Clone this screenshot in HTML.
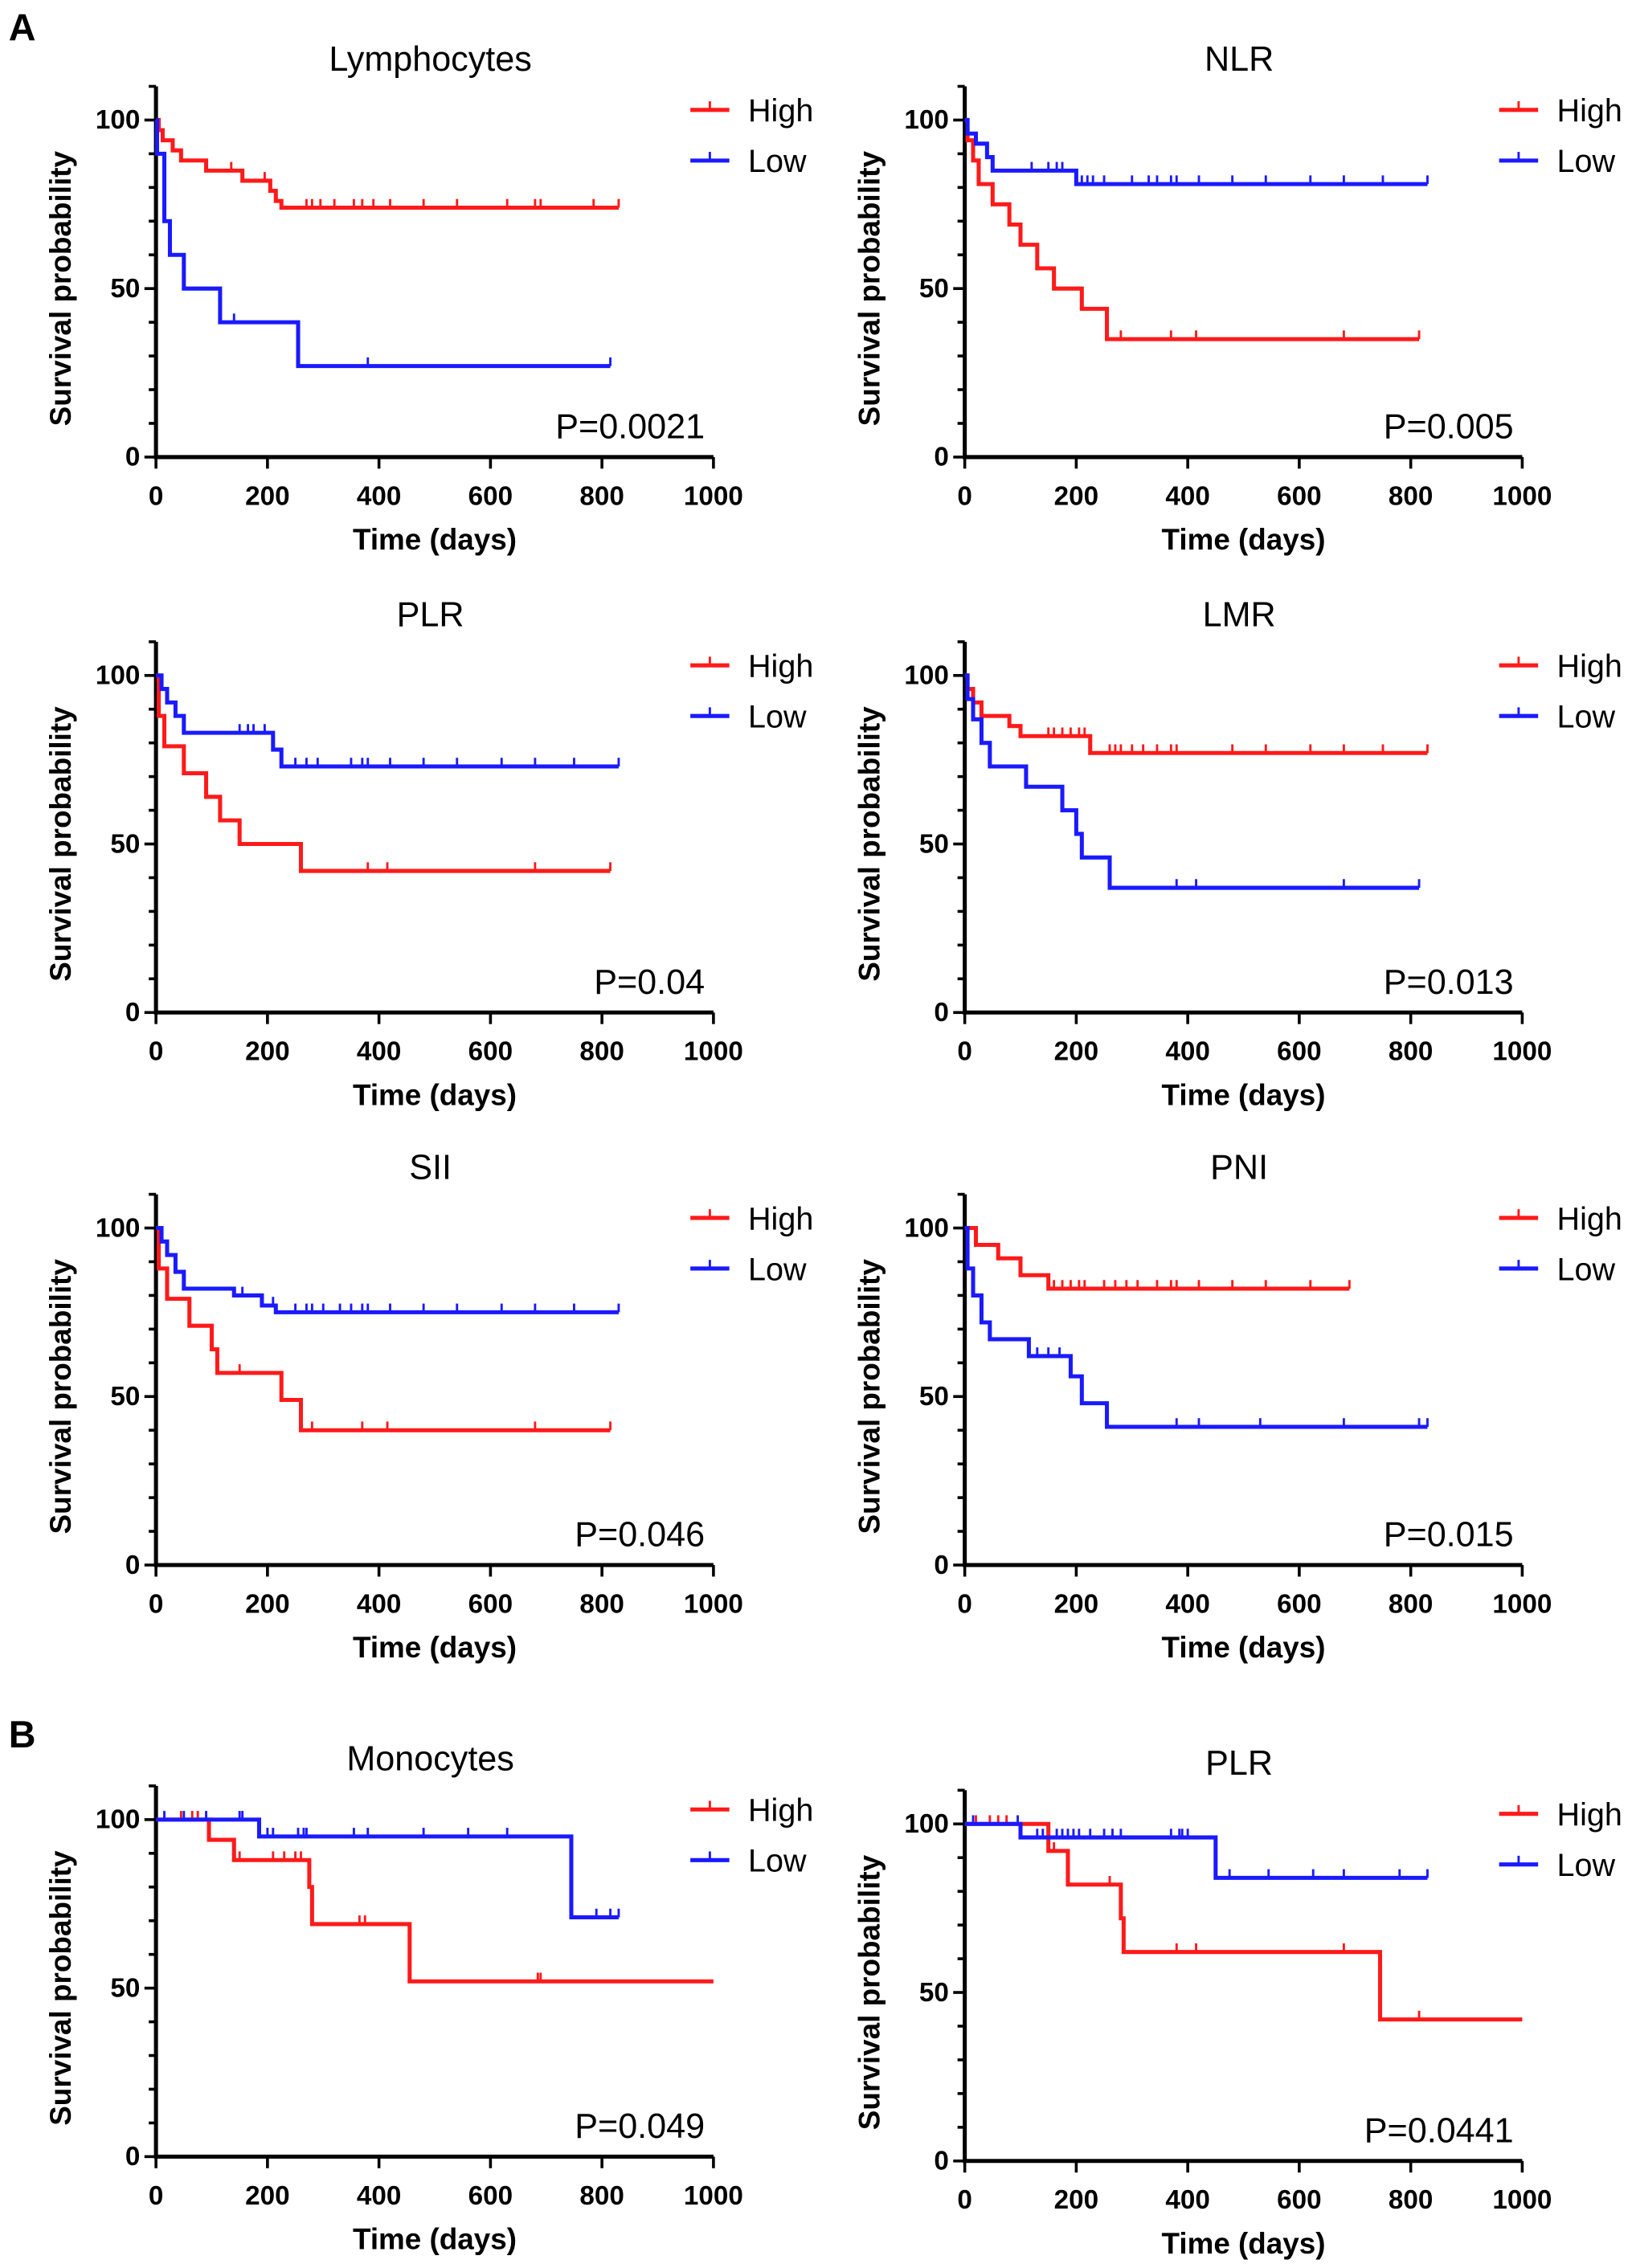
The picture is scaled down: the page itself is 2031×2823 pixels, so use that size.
<!DOCTYPE html>
<html><head><meta charset="utf-8">
<style>
html,body{margin:0;padding:0;background:#fff;}
svg{display:block;}
text{font-family:"Liberation Sans",Arial,sans-serif;}
</style></head>
<body>
<svg id="fig" width="2031" height="2823" viewBox="0 0 1130 1568" preserveAspectRatio="none" xmlns="http://www.w3.org/2000/svg"></svg>
<script>
// ---- data (time in days, survival %) ----
const lymHighT=[0,5,12,30,45,90,155,205,215,225];
const lymHighS=[100,97,94,91,88,85,82,79,76,74];
const lymHighC=[135,195,270,280,295,320,355,370,390,420,480,540,630,680,690,785,830];
const lymHighEnd=830;
const lymLowT=[0,2,15,25,50,115,255];
const lymLowS=[100,90,70,60,50,40,27];
const lymLowC=[140,380,815];
const lymLowEnd=815;

const nlrHighT=[0,5,15,25,50,80,100,130,160,210,255];
const nlrHighS=[100,94,88,81,75,69,63,56,50,44,35];
const nlrHighC=[280,370,415,680,815];
const nlrHighEnd=815;
const nlrLowT=[0,5,20,40,50,200];
const nlrLowS=[100,96,93,89,85,81];
const nlrLowC=[120,150,165,175,210,220,230,250,300,330,345,370,380,420,480,540,620,680,750,830];
const nlrLowEnd=830;

const plrHighT=[0,5,15,50,90,115,150,260];
const plrHighS=[100,88,79,71,64,57,50,42];
const plrHighC=[380,415,680,815];
const plrHighEnd=815;
const plrLowT=[0,10,20,35,50,210,225];
const plrLowS=[100,96,92,88,83,78,73];
const plrLowC=[150,165,175,195,210,250,270,290,350,370,380,420,480,540,620,680,750,830];
const plrLowEnd=830;

const lmrHighT=[0,5,15,30,80,100,225];
const lmrHighS=[100,96,92,88,85,82,77];
const lmrHighC=[150,160,175,190,205,215,260,270,280,300,320,345,370,380,480,540,620,680,750,830];
const lmrHighEnd=830;
const lmrLowT=[0,5,15,30,45,110,175,200,210,260];
const lmrLowS=[100,93,87,80,73,67,60,53,46,37];
const lmrLowC=[380,415,680,815];
const lmrLowEnd=815;

const siiHighT=[0,5,20,60,100,110,225,260];
const siiHighS=[100,88,79,71,64,57,49,40];
const siiHighC=[150,280,370,415,680,815];
const siiHighEnd=815;
const siiLowT=[0,10,20,35,50,140,190,215];
const siiLowS=[100,96,92,87,82,80,77,75];
const siiLowC=[140,155,210,250,270,280,300,330,350,370,380,420,480,540,620,680,750,830];
const siiLowEnd=830;

const pniHighT=[0,20,60,100,150];
const pniHighS=[100,95,91,86,82];
const pniHighC=[160,175,190,205,215,250,270,290,310,345,370,380,420,480,540,620,690];
const pniHighEnd=690;
const pniLowT=[0,5,15,30,45,115,190,210,255];
const pniLowS=[100,88,80,72,67,62,56,48,41];
const pniLowC=[130,150,170,190,380,420,530,680,815,830];
const pniLowEnd=830;

const monoHighT=[0,95,140,275,280,455];
const monoHighS=[100,94,88,80,69,52];
const monoHighC=[45,65,75,150,210,230,250,260,365,375,685,690];
const monoHighEnd=1000;
const monoLowT=[0,185,745];
const monoLowS=[100,95,71];
const monoLowC=[15,50,90,150,155,200,210,255,265,270,355,380,480,560,630,790,815,830];
const monoLowEnd=830;

const plrBHighT=[0,150,185,280,285,745];
const plrBHighS=[100,92,82,72,62,42];
const plrBHighC=[20,45,60,75,160,260,380,415,680,815];
const plrBHighEnd=1000;
const plrBLowT=[0,100,450];
const plrBLowS=[100,96,84];
const plrBLowC=[15,95,130,140,165,175,185,195,205,225,250,265,280,370,385,390,400,475,545,625,680,780,830];
const plrBLowEnd=830;

const xTicks=[0,200,400,600,800,1000];
const yTickLabels=[0,50,100];
const yMinor=[0,10,20,30,40,50,60,70,80,90,100,110];

const panels=[
 {id:'lymphocytes',title:'Lymphocytes',p:'P=0.0021',col:0,y0:316,hi:[lymHighT,lymHighS,lymHighC,lymHighEnd],lo:[lymLowT,lymLowS,lymLowC,lymLowEnd]},
 {id:'nlr',title:'NLR',p:'P=0.005',col:1,y0:316,hi:[nlrHighT,nlrHighS,nlrHighC,nlrHighEnd],lo:[nlrLowT,nlrLowS,nlrLowC,nlrLowEnd]},
 {id:'plr-a',title:'PLR',p:'P=0.04',col:0,y0:700,hi:[plrHighT,plrHighS,plrHighC,plrHighEnd],lo:[plrLowT,plrLowS,plrLowC,plrLowEnd]},
 {id:'lmr',title:'LMR',p:'P=0.013',col:1,y0:700,hi:[lmrHighT,lmrHighS,lmrHighC,lmrHighEnd],lo:[lmrLowT,lmrLowS,lmrLowC,lmrLowEnd]},
 {id:'sii',title:'SII',p:'P=0.046',col:0,y0:1082,hi:[siiHighT,siiHighS,siiHighC,siiHighEnd],lo:[siiLowT,siiLowS,siiLowC,siiLowEnd]},
 {id:'pni',title:'PNI',p:'P=0.015',col:1,y0:1082,hi:[pniHighT,pniHighS,pniHighC,pniHighEnd],lo:[pniLowT,pniLowS,pniLowC,pniLowEnd]},
 {id:'monocytes',title:'Monocytes',p:'P=0.049',col:0,y0:1491,hi:[monoHighT,monoHighS,monoHighC,monoHighEnd],lo:[monoLowT,monoLowS,monoLowC,monoLowEnd]},
 {id:'plr-b',title:'PLR',p:'P=0.0441',col:1,y0:1494,hi:[plrBHighT,plrBHighS,plrBHighC,plrBHighEnd],lo:[plrBLowT,plrBLowS,plrBLowC,plrBLowEnd]}
];

const NS='http://www.w3.org/2000/svg';
const svg=document.getElementById('fig');
function mk(tag,attrs,parent,txt){const e=document.createElementNS(NS,tag);for(const k in attrs)e.setAttribute(k,attrs[k]);if(txt!==undefined)e.textContent=txt;(parent||svg).appendChild(e);return e;}

function lbl(t,x,y){const e=mk('text',{x:x,y:y,'font-size':26,'font-weight':'bold'},svg,t);

}
lbl('A',6,28);lbl('B',6,1208);

panels.forEach(p=>{
 const x0=p.col===0?108:668, W=386, H=233, y0=p.y0;
 const X=t=>x0+t/1000*W, Y=s=>y0-s/100*H;
 const g=mk('g',{});
 
 
 const cx=x0+190;
 const title=mk('text',{x:cx,y:Y(100)-34,'font-size':24,'text-anchor':'middle'},g,p.title);
 
 
 const ax=mk('path',{d:`M${x0} ${Y(110)} V${y0} H${X(1000)}`,stroke:'#000','stroke-width':2.8,fill:'none'},g);
 
 
 yMinor.forEach(v=>{const l=mk('line',{x1:x0-(v%50===0?8:5),x2:x0,y1:Y(v),y2:Y(v),stroke:'#000','stroke-width':2},g);
  
  });
 yTickLabels.forEach(v=>{const t=mk('text',{x:x0-11,y:Y(v)+6,'font-size':18.5,'font-weight':'bold','text-anchor':'end'},g,String(v));
  
  });
 xTicks.forEach(v=>{mk('line',{x1:X(v),x2:X(v),y1:y0,y2:y0+8,stroke:'#000','stroke-width':2},g);
  const t=mk('text',{x:X(v),y:y0+33,'font-size':18.5,'font-weight':'bold','text-anchor':'middle'},g,String(v));
  
  });
 const xl=mk('text',{x:x0+193,y:y0+64,'font-size':20.5,'font-weight':'bold','text-anchor':'middle'},g,'Time (days)');
 
 
 const yl=mk('text',{x:0,y:0,'font-size':20.5,'font-weight':'bold','text-anchor':'middle',transform:`translate(${x0-59},${Y(50)}) rotate(-90)`},g,'Survival probability');
 
 
 [[p.hi,'#ff1a1a','high'],[p.lo,'#1a1aff','low']].forEach(([d,c,nm])=>{
  const [T,S,C,end]=d;
  let path=`M${X(T[0])} ${Y(S[0])}`;
  for(let i=1;i<T.length;i++)path+=` H${X(T[i])} V${Y(S[i])}`;
  path+=` H${X(end)}`;
  const ln=mk('path',{d:path,stroke:c,'stroke-width':2.8,fill:'none'},g);
  
  
  C.forEach(t=>{let s=S[0];for(let i=0;i<T.length;i++)if(T[i]<=t)s=S[i];
   const ck=mk('line',{x1:X(t),x2:X(t),y1:Y(s),y2:Y(s)-6,stroke:c,'stroke-width':1.6},g);
   
   });
 });
 const lx=p.col===0?478:1038, ly=Y(100)-7;
 [['High','#ff1a1a',0],['Low','#1a1aff',35]].forEach(([n,c,dy])=>{
  const lg=mk('g',{},g);
  
  
  mk('line',{x1:lx,x2:lx+27,y1:ly+dy,y2:ly+dy,stroke:c,'stroke-width':2.8},lg);
  mk('line',{x1:lx+13.5,x2:lx+13.5,y1:ly+dy,y2:ly+dy-6,stroke:c,'stroke-width':1.6},lg);
  mk('text',{x:lx+40,y:ly+dy+8,'font-size':22},lg,n);
 });
 const pv=mk('text',{x:x0+380,y:y0-13,'font-size':24,'text-anchor':'end'},g,p.p);
 
 
});
</script>
</body></html>
